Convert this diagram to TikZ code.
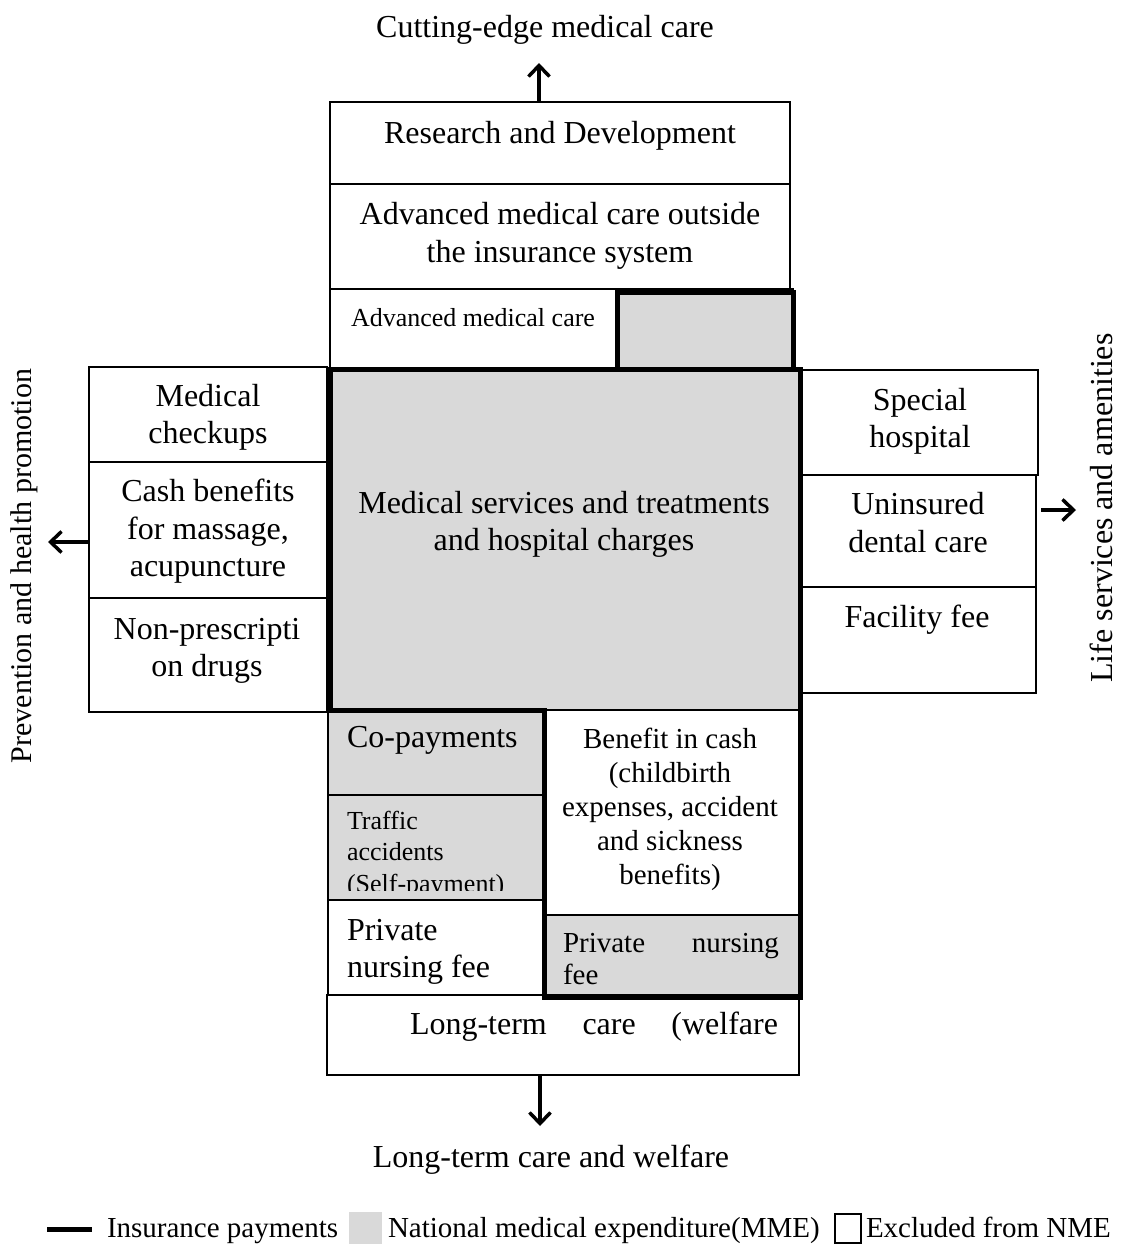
\documentclass[tikz,border=0pt]{standalone}
\usepackage{fontspec}
\setmainfont{Liberation Serif}
\usetikzlibrary{arrows.meta}
\definecolor{nmegray}{RGB}{217,217,217}
\newcommand\fsz[2]{\fontsize{#1pt}{#2pt}\selectfont}
\tikzset{
  box/.style={draw=black, line width=1.2pt, inner sep=0pt, outer sep=0pt, anchor=north west},
  graybox/.style={box, fill=nmegray},
  ins/.style={draw=black, line width=5pt, line join=miter},
  txt/.style={inner sep=0pt, outer sep=0pt, align=center, yshift=-3pt, font=\fsz{32}{37}},
  smalltxt/.style={txt, font=\fsz{26}{31.5}},
  midtxt/.style={txt, font=\fsz{29}{34}},
  sidetxt/.style={inner sep=0pt, outer sep=0pt, align=center, font=\fsz{32}{37}},
  legtxt/.style={inner sep=0pt, outer sep=0pt, anchor=west, yshift=-2pt, font=\fsz{29}{34}},
  arr/.style={line width=3.5pt, -{Straight Barb[length=11pt,width=21pt]}}
}
\begin{document}
\begin{tikzpicture}[x=1pt,y=-1pt]
\useasboundingbox (0,0) rectangle (1122,1248);

% top column
\node[box, minimum width=460pt, minimum height=82pt] (rd) at (330,102) {};
\node[box, minimum width=460pt, minimum height=105pt] (advout) at (330,184) {};
\node[box, minimum width=463pt, minimum height=80pt] (advcare) at (330,289) {};
\node[box, fill=nmegray, draw=none, minimum width=176pt, minimum height=77pt] (advgray) at (617,292) {};

% main
\node[box, fill=nmegray, draw=none, minimum width=470pt, minimum height=341pt] (main) at (330,369) {};

% left column
\node[box, minimum width=238pt, minimum height=95pt] (medchk) at (89,367) {};
\node[box, minimum width=238pt, minimum height=136pt] (cash) at (89,462) {};
\node[box, minimum width=238pt, minimum height=114pt] (nonpre) at (89,598) {};

% right column
\node[box, minimum width=236pt, minimum height=105pt] (special) at (802,370) {};
\node[box, minimum width=234pt, minimum height=112pt] (dental) at (802,475) {};
\node[box, minimum width=234pt, minimum height=106pt] (facility) at (802,587) {};

% lower part
\node[graybox, minimum width=216pt, minimum height=85pt] (copay) at (328,710) {};
\node[graybox, minimum width=216pt, minimum height=105pt] (traffic) at (328,795) {};
\node[box, minimum width=216pt, minimum height=95pt] (privL) at (328,900) {};
\node[box, minimum width=256pt, minimum height=205pt] (benefit) at (544,710) {};
\node[graybox, minimum width=256pt, minimum height=82pt] (privR) at (544,915) {};
\node[box, minimum width=472pt, minimum height=80pt] (ltc) at (327,995) {};

% insurance payment outlines
\draw[ins] (330,369) -- (800,369) -- (800,997) -- (544,997) -- (544,710) -- (330,710) -- cycle;
\draw[ins] (617,292) rectangle (793,369);

% texts
\node[txt] (rdT) at (560,133) {\strut Research and Development};
\node[txt, font=\fsz{32}{38}] (advoutT) at (560,233) {\strut Advanced medical care outside\\\strut the insurance system};
\node[smalltxt, anchor=west] (advcareT) at (351,317) {\strut Advanced medical care};
\node[txt] (mainT) at (564,522) {\strut Medical services and treatments\\\strut and hospital charges};

\node[txt] (medchkT) at (208,415) {\strut Medical\\\strut checkups};
\node[txt, font=\fsz{32}{37.5}] (cashT) at (208,528.5) {\strut Cash benefits\\\strut for massage,\\\strut acupuncture};
\node[txt] (nonpreT) at (207,647.5) {\strut Non-prescripti\\\strut on drugs};

\node[txt] (specialT) at (920,418.5) {\strut Special\\\strut hospital};
\node[txt, font=\fsz{32}{38}] (dentalT) at (918,523) {\strut Uninsured\\\strut dental care};
\node[txt] (facilityT) at (917,617) {\strut Facility fee};

\node[txt, anchor=west] (copayT) at (347,737) {\strut Co-payments};
\begin{scope}
  \clip (328,795) rectangle (544,890);
  \node[smalltxt, align=left, anchor=west] (trafficT) at (347,851.5) {\strut Traffic\\\strut accidents\\\strut (Self-payment)};
\end{scope}
\node[txt, align=left, anchor=west] (privLT) at (347,948.5) {\strut Private\\\strut nursing fee};
\node[midtxt] (benefitT) at (670,807) {\strut Benefit in cash\\\strut (childbirth\\\strut expenses, accident\\\strut and sickness\\\strut benefits)};
\begin{scope}
  \clip (544,915) rectangle (800,985);
  \node[midtxt, font=\fsz{29}{32}, align=left, anchor=west] (privRT) at (563,959) {\strut\makebox[216pt][s]{Private nursing}\\\strut fee};
\end{scope}
\node[txt, anchor=west] (ltcT) at (410,1024) {\strut\makebox[368pt][s]{Long-term care (welfare}};

% outer labels
\node[txt] (topL) at (545,27) {\strut Cutting-edge medical care};
\node[txt] (botL) at (551,1157) {\strut Long-term care and welfare};
\node[sidetxt, font=\fsz{30}{36}, rotate=90] (leftL) at (24,566) {\strut Prevention and health promotion};
\node[sidetxt, rotate=90] (rightL) at (1105,508) {\strut Life services and amenities};

% arrows
\coordinate (uptip) at (539,63);
\coordinate (dntip) at (540,1126);
\coordinate (lftip) at (48,542);
\coordinate (rttip) at (1076,510);
\draw[arr] (rd.north -| uptip) -- (uptip);
\draw[arr] (ltc.south -| dntip) -- (dntip);
\draw[arr] (cash.west |- lftip) -- (lftip);
\draw[arr, shorten <=5pt] (dental.east |- rttip) -- (rttip);

% legend
\coordinate (legA) at (47,1229);
\coordinate (legB) at (92,1229);
\draw[line width=5pt] (legA) -- (legB);
\node[legtxt] (legT1) at (107,1229) {\strut Insurance payments};
\node[box, fill=nmegray, draw=none, minimum width=33pt, minimum height=32pt] (legG) at (349,1212) {};
\node[legtxt] (legT2) at (388,1229) {\strut National medical expenditure(MME)};
\node[box, minimum width=26pt, minimum height=29pt] (legW) at (835,1214) {};
\node[legtxt] (legT3) at (866,1229) {\strut Excluded from NME};
\end{tikzpicture}
\end{document}
